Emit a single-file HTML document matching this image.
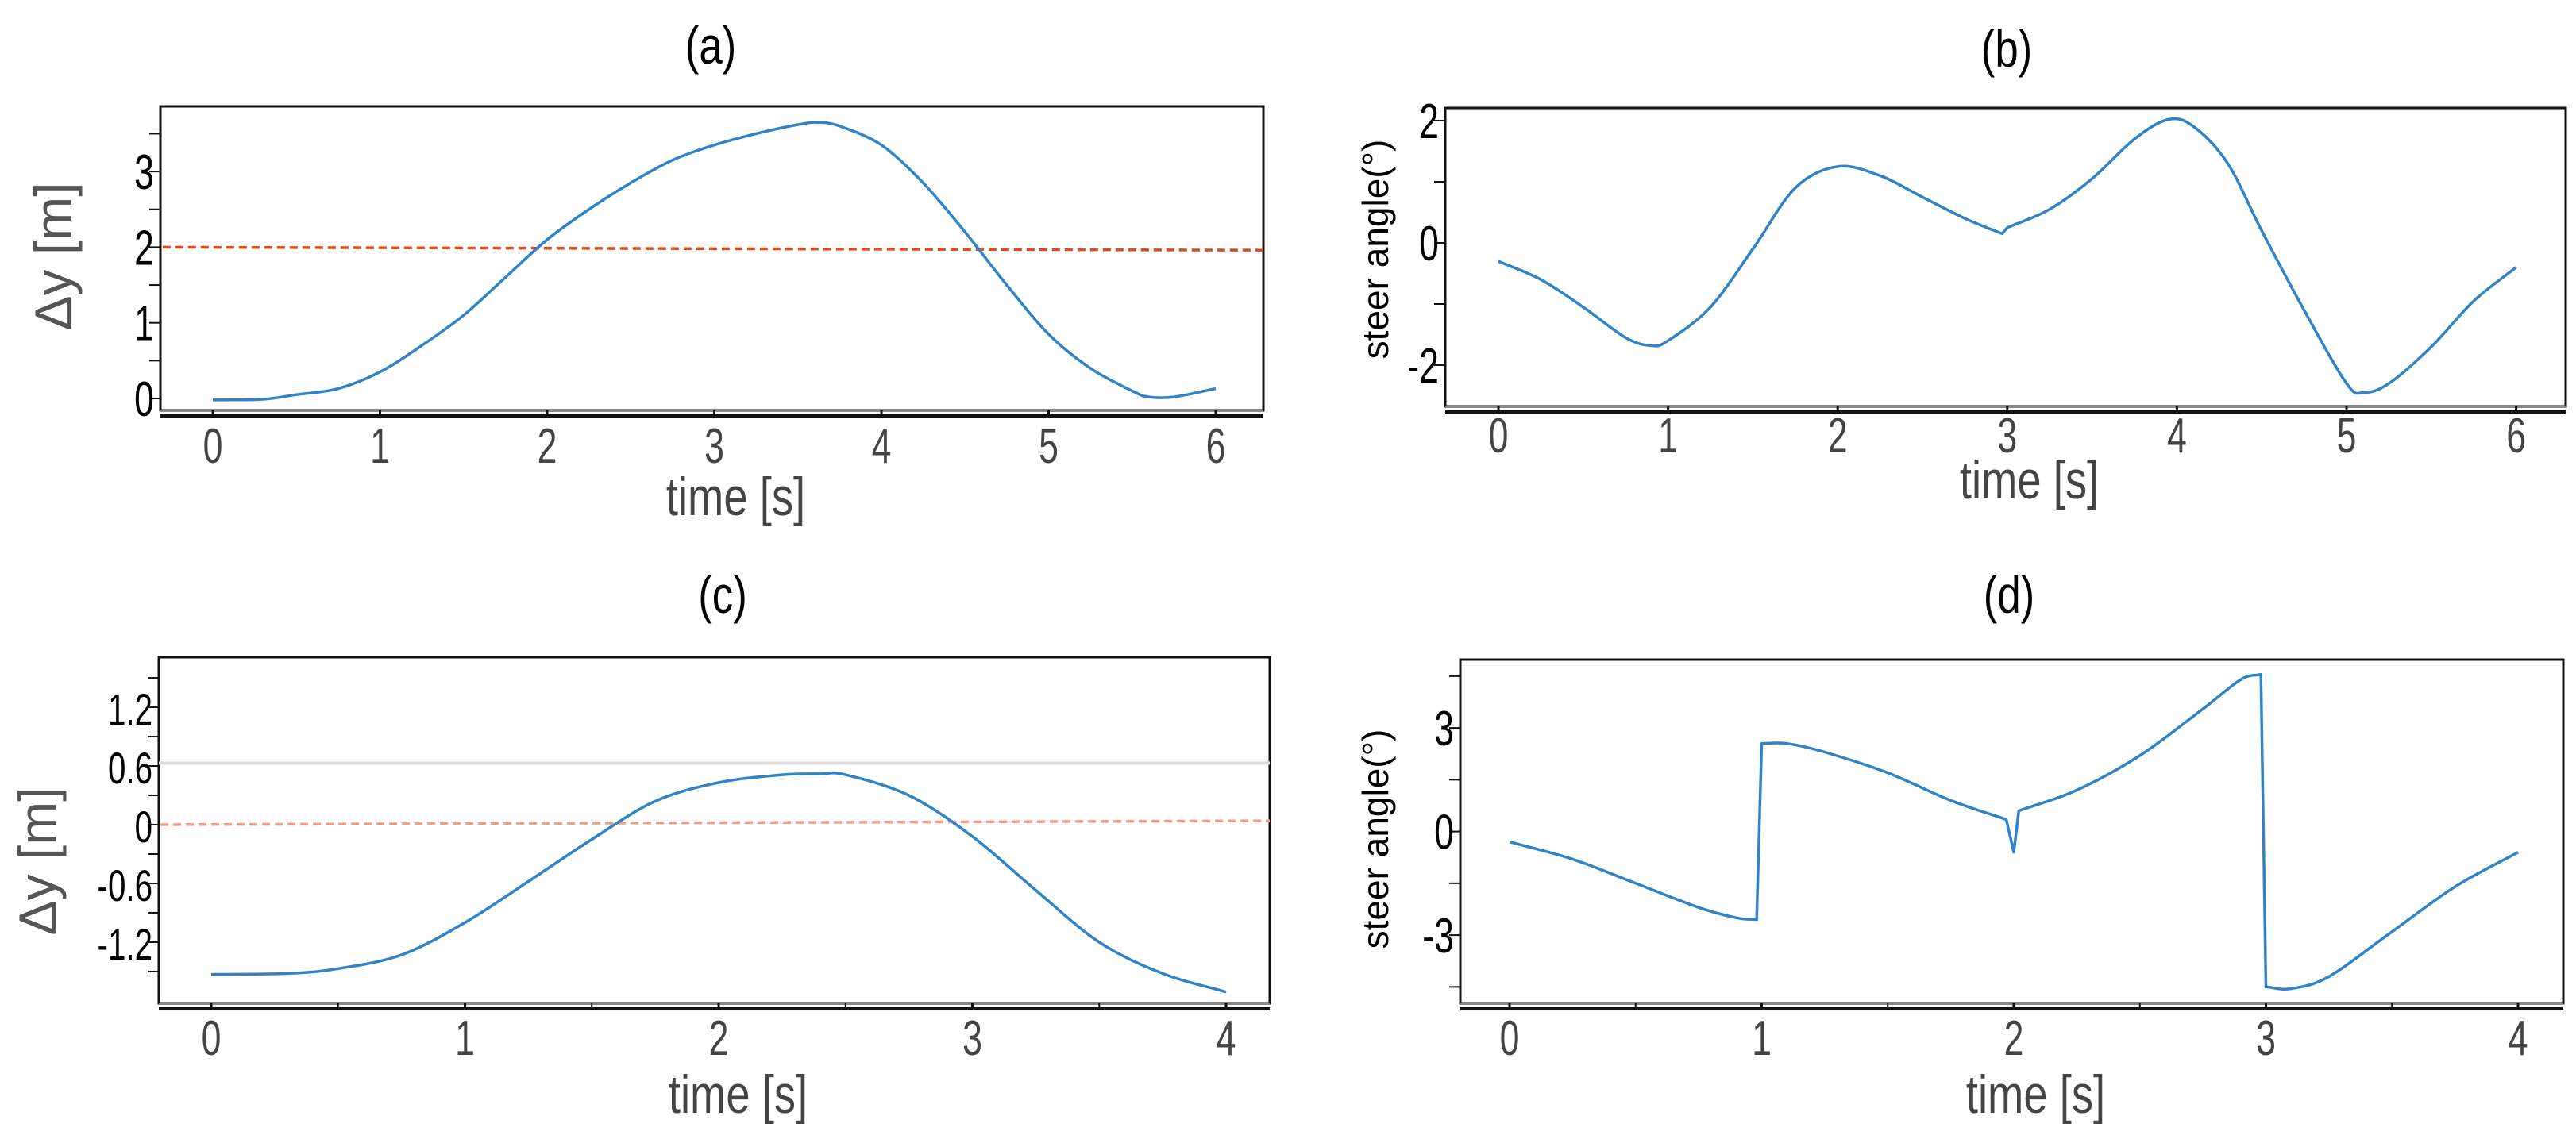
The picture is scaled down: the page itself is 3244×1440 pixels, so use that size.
<!DOCTYPE html>
<html><head><meta charset="utf-8">
<style>
html,body{margin:0;padding:0;background:#fff;}
svg{display:block;}
</style></head>
<body>
<svg id="fig" width="3244" height="1440" viewBox="0 0 3244 1440" xmlns="http://www.w3.org/2000/svg"></svg>
<script>
// ---- Panel (a) data ----
const aTime = [0,0.3,0.5,0.75,1,1.25,1.5,1.75,2,2.25,2.5,2.75,3,3.25,3.5,3.62,3.75,4,4.25,4.5,4.75,5,5.25,5.5,5.6,5.75,6];
const aDy   = [-0.02,-0.01,0.05,0.13,0.35,0.7,1.1,1.6,2.1,2.5,2.85,3.15,3.35,3.5,3.62,3.65,3.6,3.35,2.85,2.2,1.5,0.85,0.4,0.1,0.02,0.02,0.13];
const aRefT = [-0.3,6.3];
const aRefY = [2.0,1.96];
const aXTicks = [0,1,2,3,4,5,6];
const aYTicks = [0,1,2,3];
const aYMinor = [0.5,1.5,2.5,3.5];
// ---- Panel (b) data ----
const bTime = [0,0.25,0.5,0.75,0.9,1,1.25,1.5,1.75,2,2.25,2.5,2.75,2.97,3.0,3.25,3.5,3.75,3.95,4.1,4.3,4.5,4.75,5,5.1,5.25,5.5,5.75,6];
const bSteer= [-0.3,-0.6,-1.05,-1.55,-1.68,-1.6,-1.05,-0.1,0.9,1.25,1.1,0.75,0.4,0.15,0.25,0.55,1.05,1.7,2.02,1.9,1.3,0.2,-1.1,-2.3,-2.45,-2.3,-1.7,-0.95,-0.4];
const bXTicks = [0,1,2,3,4,5,6];
const bYTicks = [-2,0,2];
const bYMinor = [-1,1];
// ---- Panel (c) data ----
const cTime = [0,0.3,0.5,0.75,1,1.25,1.5,1.75,2,2.25,2.4,2.5,2.75,3,3.25,3.5,3.75,4];
const cDy   = [-1.53,-1.52,-1.47,-1.33,-1.0,-0.58,-0.15,0.24,0.43,0.51,0.52,0.51,0.3,-0.12,-0.67,-1.2,-1.52,-1.71];
const cRefT = [-0.2,4.2];
const cRefY = [0.0,0.04];
const cXTicks = [0,1,2,3,4];
const cXMinor = [0.5,1.5,2.5,3.5];
const cYTicks = [-1.2,-0.6,0,0.6,1.2];
const cYMinor = [-1.5,-0.9,-0.3,0.3,0.9,1.5];
// ---- Panel (d) data ----
const dTime = [0,0.25,0.5,0.75,0.9,0.98,1.0,1.1,1.25,1.5,1.75,1.97,2.0,2.02,2.25,2.5,2.75,2.9,2.98,3.0,3.1,3.25,3.5,3.75,4];
const dSteer= [-0.3,-0.8,-1.5,-2.2,-2.5,-2.55,2.55,2.55,2.3,1.7,0.9,0.35,-0.6,0.6,1.2,2.2,3.55,4.4,4.55,-4.5,-4.55,-4.2,-2.9,-1.6,-0.6];
const dXTicks = [0,1,2,3,4];
const dXMinor = [0.5,1.5,2.5,3.5];
const dYTicks = [-3,0,3];
const dYMinor = [-4.5,-1.5,1.5,4.5];

const NS="http://www.w3.org/2000/svg";
const svg=document.getElementById('fig');
function mk(tag,attrs,parent){const e=document.createElementNS(NS,tag);for(const k in attrs)e.setAttribute(k,attrs[k]);(parent||svg).appendChild(e);return e;}

function smoothPath(P){
  const n=P.length; const isJump=i=>(P[i+1][0]-P[i][0])<12;
  const tan=i=>{
    const hasPrev=i>0&&!isJump(i-1), hasNext=i<n-1&&!isJump(i);
    if(hasPrev&&hasNext) return [(P[i+1][0]-P[i-1][0])/2,(P[i+1][1]-P[i-1][1])/2];
    if(hasNext) return [P[i+1][0]-P[i][0],P[i+1][1]-P[i][1]];
    if(hasPrev) return [P[i][0]-P[i-1][0],P[i][1]-P[i-1][1]];
    return [0,0];
  };
  let d='M'+P[0][0].toFixed(1)+' '+P[0][1].toFixed(1);
  for(let i=0;i<n-1;i++){
    if(isJump(i)){d+=' L'+P[i+1][0].toFixed(1)+' '+P[i+1][1].toFixed(1);continue;}
    const t0=tan(i),t1=tan(i+1);
    const c1=[P[i][0]+t0[0]/3,P[i][1]+t0[1]/3], c2=[P[i+1][0]-t1[0]/3,P[i+1][1]-t1[1]/3];
    d+=' C'+c1[0].toFixed(1)+' '+c1[1].toFixed(1)+' '+c2[0].toFixed(1)+' '+c2[1].toFixed(1)+' '+P[i+1][0].toFixed(1)+' '+P[i+1][1].toFixed(1);
  }
  return d;
}

function panel(p){
  const g=mk('g',{});
  
  
  const X=v=>p.x0+(v-p.t0)*p.xs;
  const Y=v=>p.y0-(v-p.v0)*p.ys;
  const fr=mk('rect',{x:p.L,y:p.T,width:p.R-p.L,height:p.B-p.T,fill:'none',stroke:'#111','stroke-width':3},g);
  
  
  mk('line',{x1:p.L,x2:p.R,y1:p.B,y2:p.B,stroke:'#888','stroke-width':2},g);
  const ax=mk('line',{x1:p.L,x2:p.R,y1:p.B+7,y2:p.B+7,stroke:'#111','stroke-width':4},g);
  
  
  if(p.grayLine!==undefined){mk('line',{x1:p.L,x2:p.R,y1:Y(p.grayLine),y2:Y(p.grayLine),stroke:'#ddd','stroke-width':4},g);}
  p.xt.forEach(v=>{
    mk('line',{x1:X(v),x2:X(v),y1:p.B,y2:p.B+8,stroke:'#111','stroke-width':3},g);
    const t=mk('text',{x:0,y:0,'text-anchor':'middle','font-size':62,fill:'#444','font-family':'Liberation Sans, sans-serif',transform:'translate('+X(v)+','+(p.B+p.xtOff)+') scale(0.72,1)'},g);
    t.textContent=String(v);
    
    
  });
  (p.xm||[]).forEach(v=>mk('line',{x1:X(v),x2:X(v),y1:p.B,y2:p.B+8,stroke:'#111','stroke-width':2},g));
  p.yt.forEach(v=>{
    mk('line',{x1:p.L-14,x2:p.L,y1:Y(v),y2:Y(v),stroke:'#111','stroke-width':2},g);
    const t=mk('text',{x:0,y:0,'text-anchor':'end','font-size':p.yfs,fill:'#000','font-family':'Liberation Sans, sans-serif',transform:'translate('+(p.L-8)+','+(Y(v)+22)+') scale(0.72,1)'},g);
    t.textContent=String(v);
    
    
  });
  (p.ym||[]).forEach(v=>mk('line',{x1:p.L-14,x2:p.L,y1:Y(v),y2:Y(v),stroke:'#111','stroke-width':2},g));
  if(p.refT){
    const r=mk('line',{x1:Math.max(p.L,X(p.refT[0])),x2:Math.min(p.R,X(p.refT[1])),y1:Y(p.refY[0]),y2:Y(p.refY[1]),stroke:p.refC,'stroke-width':3.5,'stroke-dasharray':'10 6'},g);
    
    
  }
  const pts=p.t.map((tv,i)=>[X(tv),Y(p.v[i])]);
  const ln=mk('path',{d:smoothPath(pts),fill:'none',stroke:'#3083c6','stroke-width':3.5,'stroke-linejoin':'round'},g);
  
  
  const ti=mk('text',{x:0,y:0,'text-anchor':'middle','font-size':66,fill:'#000','font-family':'Liberation Sans, sans-serif',transform:'translate('+p.titleX+','+p.titleY+') scale(0.8,1)'},g);
  ti.textContent=p.title;
  
  
  const xl=mk('text',{x:0,y:0,'text-anchor':'middle','font-size':68,fill:'#444','font-family':'Liberation Sans, sans-serif',transform:'translate('+((p.L+p.R)/2+30)+','+(p.B+p.xlOff)+') scale(0.8,1)'},g);
  xl.textContent='time [s]';
  
  
  const yl=mk('text',{x:0,y:0,'text-anchor':'middle','font-size':p.ylfs,fill:p.ylc,'font-family':'Liberation Sans, sans-serif',transform:'translate('+p.ylx+','+p.yly+') rotate(-90)'},g);
  yl.textContent=p.ylabel;
  
  
}

panel({name:'panel-a',L:202,R:1591,T:134,B:517,x0:268,t0:0,xs:210.5,y0:502,v0:0,ys:95.3,
  t:aTime,v:aDy,xt:aXTicks,yt:aYTicks,ym:aYMinor,yfs:62,refT:aRefT,refY:aRefY,refC:'#e0491c',
  title:'(a)',titleX:895,titleY:80,xtOff:66,xlOff:132,ylabel:'Δy [m]',ylfs:66,ylc:'#555',ylx:90,yly:323});
panel({name:'panel-b',L:1820,R:3231,T:136,B:512,x0:1887,t0:0,xs:213.6,y0:306,v0:0,ys:77,
  t:bTime,v:bSteer,xt:bXTicks,yt:bYTicks,ym:bYMinor,yfs:62,
  title:'(b)',titleX:2527,titleY:84,xtOff:58,xlOff:116,ylabel:'steer angle(°)',ylfs:46,ylc:'#000',ylx:1748,yly:314});
panel({name:'panel-c',L:200,R:1599,T:828,B:1264,x0:266,t0:0,xs:319.5,y0:1039,v0:0,ys:123.3,grayLine:0.63,
  t:cTime,v:cDy,xt:cXTicks,xm:cXMinor,yt:cYTicks,ym:cYMinor,yfs:56,refT:cRefT,refY:cRefY,refC:'#f0a080',
  title:'(c)',titleX:910,titleY:772,xtOff:65,xlOff:138,ylabel:'Δy [m]',ylfs:66,ylc:'#555',ylx:70,yly:1085});
panel({name:'panel-d',L:1839,R:3228,T:831,B:1264,x0:1901,t0:0,xs:317.5,y0:1047.6,v0:0,ys:43.5,
  t:dTime,v:dSteer,xt:dXTicks,xm:dXMinor,yt:dYTicks,ym:dYMinor,yfs:62,
  title:'(d)',titleX:2530,titleY:772,xtOff:65,xlOff:138,ylabel:'steer angle(°)',ylfs:46,ylc:'#000',ylx:1748,yly:1057});
</script>
</body></html>
